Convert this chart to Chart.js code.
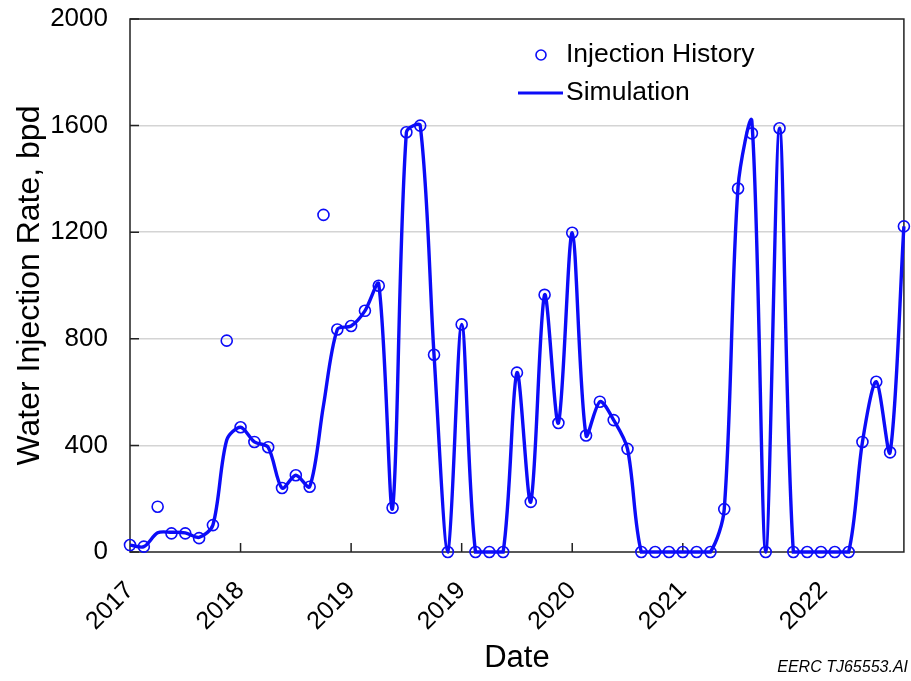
<!DOCTYPE html>
<html lang="en">
<head>
<meta charset="UTF-8">
<title>Water Injection Rate</title>
<script src="https://cdn.jsdelivr.net/npm/chart.js@4.4.1/dist/chart.umd.min.js"></script>
<style>
html, body {
	margin: 0;
	padding: 0;
	background: #fff;
}

#wrap {
	position: relative;
	width: 911px;
	height: 681px;
}
</style>
</head>
<body>
	<div id="wrap">
		<canvas id="rateChart"></canvas>
	</div>
	<script>
		// monthly injection rate, bpd (month 0 = start of record)
		const injectionHistory = [26, 20, 170, 70, 70, 52, 101, 793, 468, 413, 393, 240, 288, 245, 1265, 835,
			848, 905, 999, 166, 1575, 1600, 740, 0, 854, 0, 0, 0, 673, 188, 965, 484, 1198, 437, 564, 495, 387,
			0, 0, 0, 0, 0, 0, 161, 1364, 1571, 0, 1590, 0, 0, 0, 0, 0, 413, 639, 374, 1222];
		const simulation = [26, 20, 72, 74, 72, 55, 101, 420, 468, 413, 393, 240, 288, 245, 550, 835,
			848, 905, 1005, 164, 1575, 1600, 740, 0, 854, 0, 0, 0, 673, 188, 965, 484, 1198, 437, 564, 495, 387,
			0, 0, 0, 0, 0, 0, 161, 1370, 1615, 0, 1590, 0, 0, 0, 0, 0, 413, 639, 374, 1222];
		const months = injectionHistory.map((v, i) => i);

		const xTickLabels = ['2017', '2018', '2019', '2019', '2020', '2021', '2022'];
		const xTickMonths = [0, 8, 16, 24, 32, 40, 50.2];
		const xTickMarks = [8, 16, 24, 32, 40];
		const yTicks = [0, 400, 800, 1200, 1600, 2000];

		const BLUE = '#0c0cf8';
		const FONT = "'Liberation Sans', Arial, sans-serif";

		// frame, inward ticks, legend and drawing number
		const decorations = {
			id: 'decorations',
			beforeDatasetsDraw(chart) {
				const { ctx, chartArea: a, scales } = chart;
				ctx.save();
				ctx.strokeStyle = '#222';
				ctx.lineWidth = 1.5;
				ctx.strokeRect(a.left, a.top, a.right - a.left, a.bottom - a.top);
				ctx.beginPath();
				xTickMarks.forEach(m => {
					const x = scales.x.getPixelForValue(m);
					ctx.moveTo(x, a.bottom);
					ctx.lineTo(x, a.bottom - 9);
				});
				yTicks.forEach(v => {
					const y = scales.y.getPixelForValue(v);
					ctx.moveTo(a.left, y);
					ctx.lineTo(a.left + 9, y);
				});
				ctx.stroke();
				ctx.restore();
			},
			afterDraw(chart) {
				const { ctx } = chart;
				ctx.save();
				ctx.fillStyle = '#000';
				ctx.textBaseline = 'middle';
				ctx.font = '26.5px ' + FONT;
				ctx.strokeStyle = BLUE;
				ctx.lineWidth = 1.6;
				ctx.beginPath();
				ctx.arc(541, 55, 5, 0, Math.PI * 2);
				ctx.stroke();
				ctx.fillText('Injection History', 566, 55);
				ctx.lineWidth = 3.2;
				ctx.beginPath();
				ctx.moveTo(518, 93);
				ctx.lineTo(563, 93);
				ctx.stroke();
				ctx.fillText('Simulation', 566, 93);
				ctx.font = 'italic 16px ' + FONT;
				ctx.textAlign = 'right';
				ctx.fillText('EERC TJ65553.AI', 908, 668);
				ctx.restore();
			}
		};

		const ctx = document.getElementById('rateChart').getContext('2d');
		const rateChart = new Chart(ctx, {
			type: 'line',
			data: {
				datasets: [{
					label: 'Injection History',
					data: months.map(m => ({ x: m, y: injectionHistory[m] })),
					showLine: false,
					pointStyle: 'circle',
					pointRadius: 5.5,
					pointBorderWidth: 1.6,
					pointBorderColor: BLUE,
					pointBackgroundColor: 'rgba(0,0,0,0)',
					clip: false,
					order: 1
				}, {
					label: 'Simulation',
					data: months.map(m => ({ x: m, y: simulation[m] })),
					borderColor: BLUE,
					borderWidth: 3.4,
					pointRadius: 0,
					tension: 0.3,
					clip: false,
					order: 2
				}]
			},
			options: {
				responsive: true,
				maintainAspectRatio: false,
				animation: false,
				layout: {
					padding: { top: 19, right: 3, left: 0, bottom: 0 }
				},
				plugins: {
					legend: { display: false },
					tooltip: { enabled: false }
				},
				scales: {
					x: {
						type: 'linear',
						min: 0,
						max: 56,
						afterBuildTicks: scale => {
							scale.ticks = xTickMonths.map(v => ({ value: v }));
						},
						afterFit: scale => {
							scale.height = 129;
							scale.paddingLeft = 0;
							scale.paddingRight = 0;
						},
						grid: { display: false, drawTicks: false },
						border: { display: false },
						ticks: {
							autoSkip: false,
							maxRotation: 45,
							minRotation: 45,
							padding: 24,
							color: '#000',
							font: { family: FONT, size: 25 },
							callback: (v, i) => xTickLabels[i]
						},
						title: {
							display: true,
							text: 'Date',
							color: '#000',
							font: { family: FONT, size: 31 },
							padding: { top: 0, bottom: 4 }
						}
					},
					y: {
						min: 0,
						max: 2000,
						afterBuildTicks: scale => {
							scale.ticks = yTicks.map(v => ({ value: v }));
						},
						afterFit: scale => {
							scale.width = 130;
							scale.paddingTop = 0;
							scale.paddingBottom = 0;
						},
						grid: {
							drawTicks: false,
							lineWidth: 1.5,
							color: c => (c.tick.value === 0 || c.tick.value === 2000) ? 'rgba(0,0,0,0)' : '#d4d4d4'
						},
						border: { display: false },
						ticks: {
							padding: 22,
							color: '#000',
							font: { family: FONT, size: 26 },
							callback: v => String(v)
						},
						title: {
							display: true,
							text: 'Water Injection Rate, bpd',
							color: '#000',
							font: { family: FONT, size: 32 },
							padding: { top: 11, bottom: 0 }
						}
					}
				}
			},
			plugins: [decorations]
		});
	</script>
</body>
</html>
